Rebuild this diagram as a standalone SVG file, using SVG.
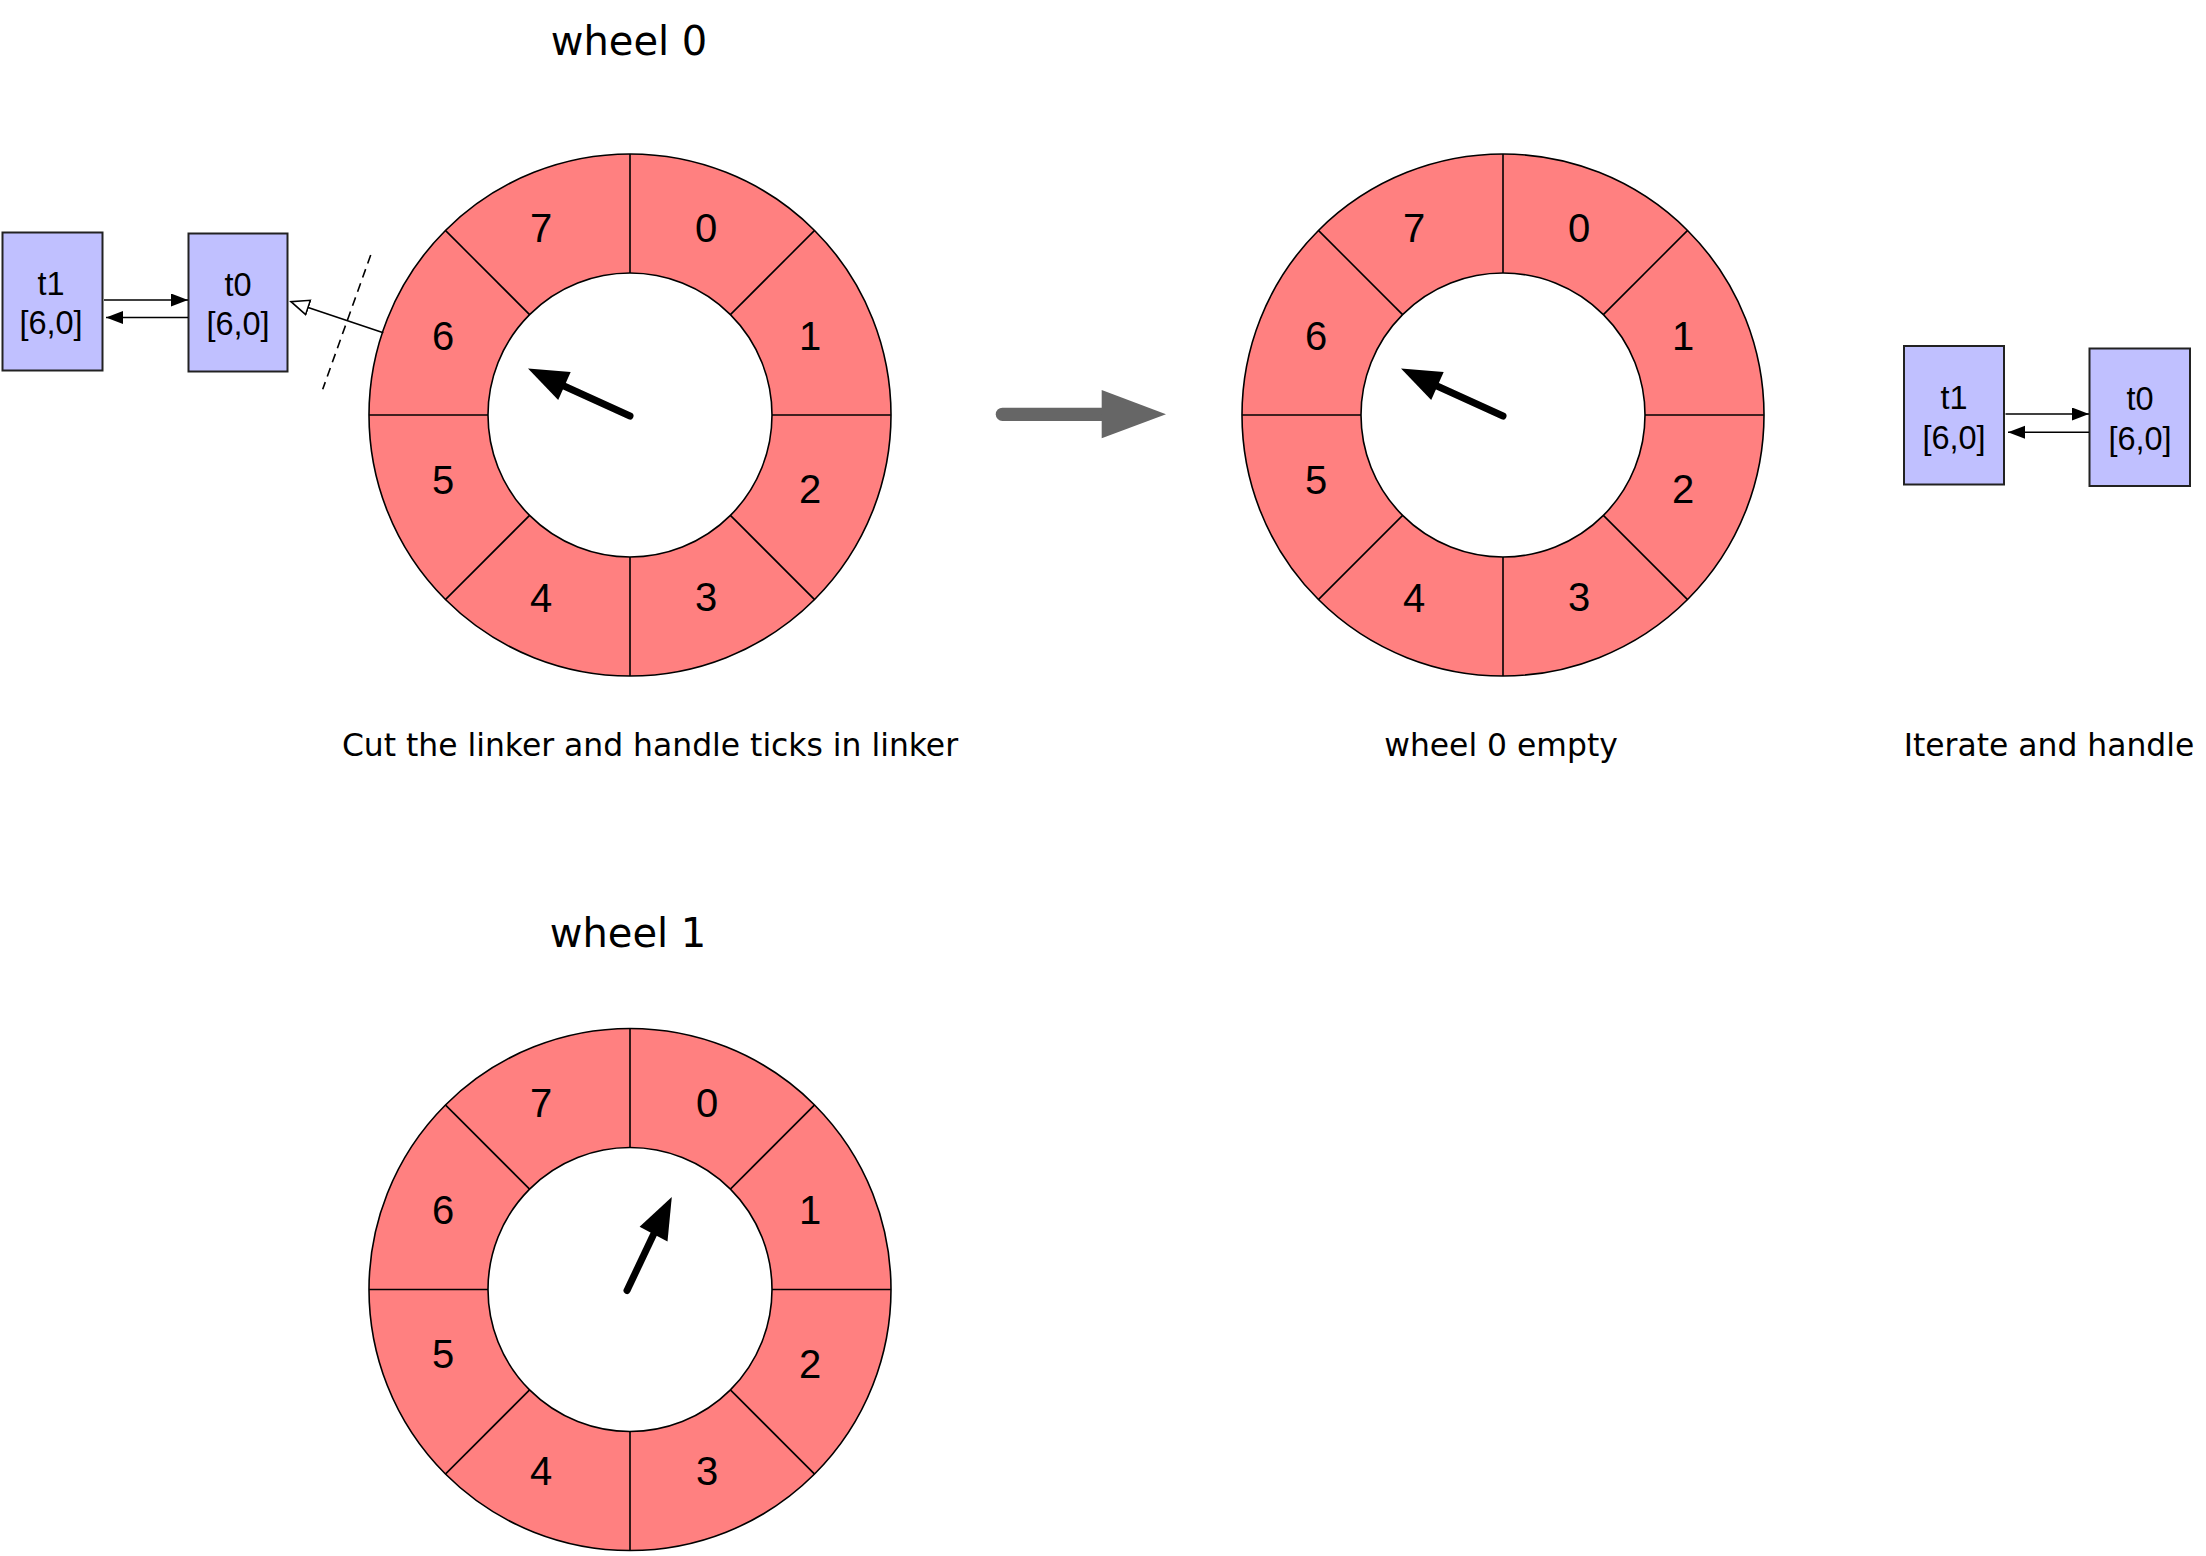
<svg xmlns="http://www.w3.org/2000/svg" width="2206" height="1556" viewBox="0 0 2206 1556">
<style>
.ring{fill:#FF8080;stroke:#000;stroke-width:1.6}
.hub{fill:#fff;stroke:#000;stroke-width:1.6}
.div{stroke:#000;stroke-width:1.6}
.num{font-family:"Liberation Sans",Arial,sans-serif;font-size:40px;fill:#000;text-anchor:middle}
.box{fill:#C0C0FF;stroke:#222;stroke-width:2}
.btxt{font-family:"Liberation Sans",Arial,sans-serif;font-size:32.5px;fill:#000;text-anchor:middle}
.title{font-family:"DejaVu Sans",Verdana,sans-serif;font-size:40px;fill:#000;text-anchor:middle}
.cap{font-family:"DejaVu Sans",Verdana,sans-serif;font-size:31.4px;fill:#000;text-anchor:middle}
.hand{stroke:#000;stroke-width:7;stroke-linecap:round}
.link{stroke:#000;stroke-width:1.6;fill:none}
</style>
<defs>
<marker id="solid" markerUnits="userSpaceOnUse" markerWidth="18" markerHeight="14" refX="17" refY="6.5" orient="auto">
<path d="M0,0 L17,6.5 L0,13 z" fill="#000"/>
</marker>
<marker id="open" markerUnits="userSpaceOnUse" markerWidth="22" markerHeight="20" refX="19" refY="8.5" orient="auto">
<path d="M1,1 L19,8.5 L1,16 z" fill="#fff" stroke="#000" stroke-width="1.6"/>
</marker>
</defs>

<text class="title" x="629" y="55">wheel 0</text>
<text class="title" x="628" y="947">wheel 1</text>

<g id="wheel0" transform="translate(630,415)">
<circle class="ring" r="261"/>
<circle class="hub" r="142"/>
<line class="div" x1="0" y1="-142" x2="0" y2="-261"/>
<line class="div" x1="0" y1="142" x2="0" y2="261"/>
<line class="div" x1="-142" y1="0" x2="-261" y2="0"/>
<line class="div" x1="142" y1="0" x2="261" y2="0"/>
<line class="div" x1="100.4" y1="-100.4" x2="184.6" y2="-184.6"/>
<line class="div" x1="-100.4" y1="-100.4" x2="-184.6" y2="-184.6"/>
<line class="div" x1="100.4" y1="100.4" x2="184.6" y2="184.6"/>
<line class="div" x1="-100.4" y1="100.4" x2="-184.6" y2="184.6"/>
<text class="num" x="76" y="-173">0</text>
<text class="num" x="180" y="-65">1</text>
<text class="num" x="180" y="88">2</text>
<text class="num" x="76" y="196">3</text>
<text class="num" x="-89" y="197">4</text>
<text class="num" x="-187" y="79">5</text>
<text class="num" x="-187" y="-65">6</text>
<text class="num" x="-89" y="-173">7</text>
<line class="hand" x1="0" y1="1" x2="-66" y2="-29"/>
<polygon points="-102,-46.4 -59.3,-43 -71.8,-15" fill="#000"/>
</g>

<g id="wheel0-empty" transform="translate(1503,415)">
<circle class="ring" r="261"/>
<circle class="hub" r="142"/>
<line class="div" x1="0" y1="-142" x2="0" y2="-261"/>
<line class="div" x1="0" y1="142" x2="0" y2="261"/>
<line class="div" x1="-142" y1="0" x2="-261" y2="0"/>
<line class="div" x1="142" y1="0" x2="261" y2="0"/>
<line class="div" x1="100.4" y1="-100.4" x2="184.6" y2="-184.6"/>
<line class="div" x1="-100.4" y1="-100.4" x2="-184.6" y2="-184.6"/>
<line class="div" x1="100.4" y1="100.4" x2="184.6" y2="184.6"/>
<line class="div" x1="-100.4" y1="100.4" x2="-184.6" y2="184.6"/>
<text class="num" x="76" y="-173">0</text>
<text class="num" x="180" y="-65">1</text>
<text class="num" x="180" y="88">2</text>
<text class="num" x="76" y="196">3</text>
<text class="num" x="-89" y="197">4</text>
<text class="num" x="-187" y="79">5</text>
<text class="num" x="-187" y="-65">6</text>
<text class="num" x="-89" y="-173">7</text>
<line class="hand" x1="0" y1="1" x2="-66" y2="-29"/>
<polygon points="-102,-46.4 -59.3,-43 -71.8,-15" fill="#000"/>
</g>

<g id="wheel1" transform="translate(630,1289.5)">
<circle class="ring" r="261"/>
<circle class="hub" r="142"/>
<line class="div" x1="0" y1="-142" x2="0" y2="-261"/>
<line class="div" x1="0" y1="142" x2="0" y2="261"/>
<line class="div" x1="-142" y1="0" x2="-261" y2="0"/>
<line class="div" x1="142" y1="0" x2="261" y2="0"/>
<line class="div" x1="100.4" y1="-100.4" x2="184.6" y2="-184.6"/>
<line class="div" x1="-100.4" y1="-100.4" x2="-184.6" y2="-184.6"/>
<line class="div" x1="100.4" y1="100.4" x2="184.6" y2="184.6"/>
<line class="div" x1="-100.4" y1="100.4" x2="-184.6" y2="184.6"/>
<text class="num" x="77" y="-173">0</text>
<text class="num" x="180" y="-66">1</text>
<text class="num" x="180" y="88">2</text>
<text class="num" x="77" y="195">3</text>
<text class="num" x="-89" y="195">4</text>
<text class="num" x="-187" y="78">5</text>
<text class="num" x="-187" y="-66">6</text>
<text class="num" x="-89" y="-173">7</text>
<line class="hand" x1="-3" y1="1" x2="24" y2="-56"/>
<polygon points="41.8,-92.4 9.6,-62.7 37.5,-48" fill="#000"/>
</g>

<g id="t1-left">
<rect class="box" x="2.5" y="232.5" width="100" height="138"/>
<text class="btxt" x="51" y="295">t1</text>
<text class="btxt" x="51" y="334">[6,0]</text>
</g>
<g id="t0-left">
<rect class="box" x="188.5" y="233.5" width="99" height="138"/>
<text class="btxt" x="238" y="296">t0</text>
<text class="btxt" x="238" y="335">[6,0]</text>
</g>
<g id="t1-right">
<rect class="box" x="1904" y="346" width="100" height="138.5"/>
<text class="btxt" x="1954" y="409">t1</text>
<text class="btxt" x="1954" y="449">[6,0]</text>
</g>
<g id="t0-right">
<rect class="box" x="2089.5" y="348.5" width="100.5" height="137.5"/>
<text class="btxt" x="2140" y="410">t0</text>
<text class="btxt" x="2140" y="450">[6,0]</text>
</g>

<g id="connectors">
<line class="link" x1="104" y1="300" x2="188" y2="300" marker-end="url(#solid)"/>
<line class="link" x1="188" y1="317.5" x2="106" y2="317.5" marker-end="url(#solid)"/>
<line class="link" x1="2005.5" y1="414" x2="2089" y2="414" marker-end="url(#solid)"/>
<line class="link" x1="2089" y1="432.3" x2="2008" y2="432.3" marker-end="url(#solid)"/>
<line class="link" x1="383.3" y1="332.7" x2="291" y2="301.7" marker-end="url(#open)"/>
<line class="link" x1="370.7" y1="255" x2="322.7" y2="389.3" stroke-dasharray="9 6"/>
<line x1="1002.4" y1="414.3" x2="1103" y2="414.3" stroke="#666" stroke-width="13.3" stroke-linecap="round"/>
<polygon points="1101.7,390 1166,414.3 1101.7,438.3" fill="#666"/>
</g>

<text class="cap" x="650" y="756">Cut the linker and handle ticks in linker</text>
<text class="cap" x="1501" y="756">wheel 0 empty</text>
<text class="cap" x="2049" y="756">Iterate and handle</text>
</svg>
